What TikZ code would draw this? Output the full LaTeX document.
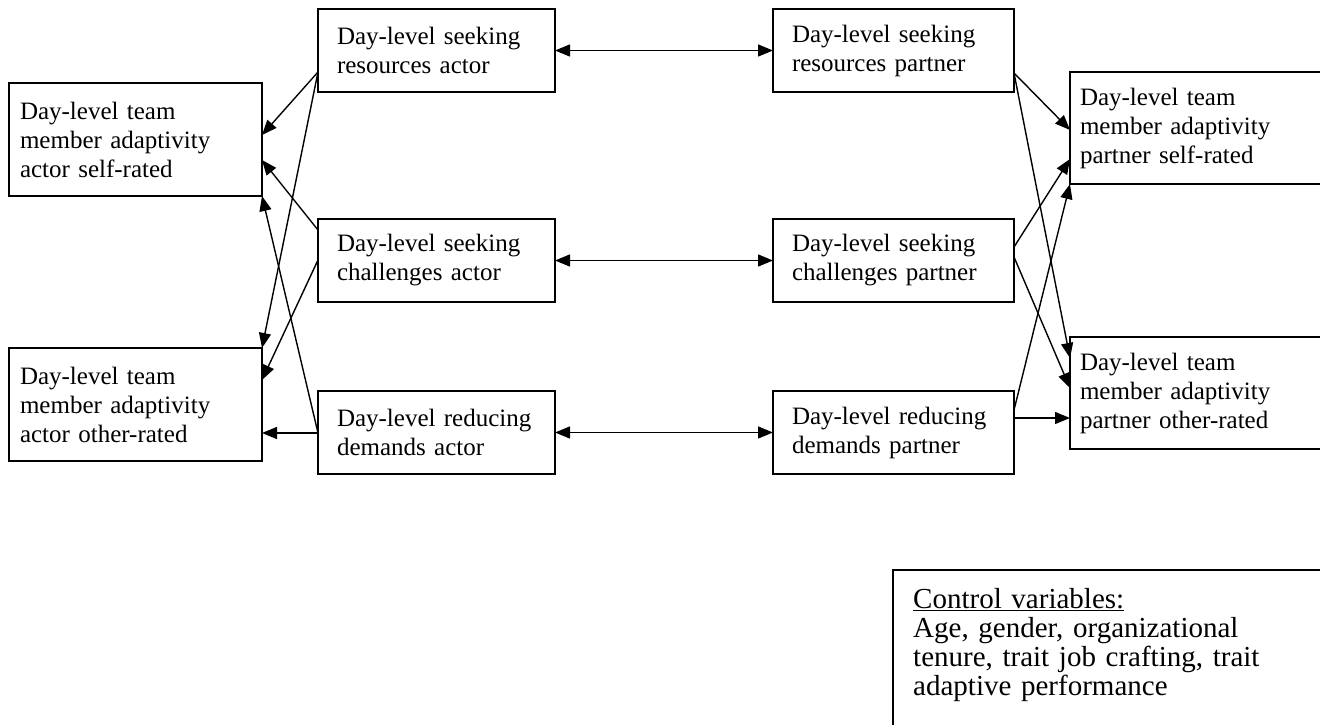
\documentclass[tikz,border=0pt]{standalone}
\usepackage{fontspec}
\setmainfont{Liberation Serif}
\usetikzlibrary{arrows.meta,calc}

\begin{document}
\begin{tikzpicture}[x=1pt, y=-1pt,
	box/.style={draw, anchor=north west, outer sep=0pt, align=left,
		font=\fontsize{25}{29}\selectfont},
	actbox/.style={box, line width=1.2pt, minimum width=253pt, minimum height=113pt,
		inner xsep=11pt, text width=231pt},
	midbox/.style 2 args={box, line width=2pt, minimum width=#1, minimum height=83pt,
		inner xsep=19pt, text width=#2},
	ptnbox/.style={box, line width=1.2pt, minimum width=300pt, minimum height=112pt,
		inner xsep=10pt, text width=280pt},
	conn/.style={-{Triangle[length=15pt,width=12pt]}, line width=1.4pt},
	link/.style={{Triangle[length=15pt,width=12pt]}-{Triangle[length=15pt,width=12pt]}, line width=1.4pt}]
	\useasboundingbox (0,0) rectangle (1320,725);
	\clip (0,0) rectangle (1320,725);
	% outcome boxes, actor and partner
	\node[actbox] (Aself) at (9,83) {Day-level team\\ member adaptivity\\ actor self-rated};
	\node[actbox] (Aother) at (9,348) {Day-level team\\ member adaptivity\\ actor other-rated};
	\node[ptnbox] (Pself) at (1070,72) {Day-level team\\ member adaptivity\\ partner self-rated};
	\node[ptnbox] (Pother) at (1070,337) {Day-level team\\ member adaptivity\\ partner other-rated};
	% crafting boxes with links between actor and partner
	\foreach \key/\y/\first/\second in {SR/9/seeking/resources, SC/219/seeking/challenges, RD/391/reducing/demands} {
		\node[midbox={237pt}{199pt}] (\key-a) at (318,\y) {Day-level \first\\ \second{} actor};
		\node[midbox={241pt}{203pt}] (\key-p) at (773,\y) {Day-level \first\\ \second{} partner};
		\draw[link] (\key-a.east) -- (\key-p.west);
	}
	% actor paths
	\draw[conn] ($(SR-a.north west)+(0,63)$) -- ($(Aself.north east)+(0,52)$);
	\draw[conn] ($(SR-a.north west)+(0,63)$) -- (Aother.north east);
	\draw[conn] ($(SC-a.north west)+(0,11)$) -- ($(Aself.north east)+(0,77)$);
	\draw[conn] ($(SC-a.north west)+(0,41)$) -- ($(Aother.north east)+(0,32)$);
	\draw[conn] ($(RD-a.north west)+(0,42)$) -- (Aself.south east);
	\draw[conn] ($(RD-a.north west)+(0,42)$) -- ($(Aother.north east)+(0,85)$);
	% partner paths
	\draw[conn] ($(SR-p.north east)+(0,64)$) -- ($(Pself.north west)+(0,58)$);
	\draw[conn] ($(SR-p.north east)+(0,64)$) -- ($(Pother.north west)+(0,21)$);
	\draw[conn] ($(SC-p.north east)+(0,28)$) -- ($(Pself.north west)+(0,87)$);
	\draw[conn] ($(SC-p.north east)+(0,38)$) -- ($(Pother.north west)+(0,51)$);
	\draw[conn] ($(RD-p.north east)+(0,19)$) -- (Pself.south west);
	\draw[conn] ($(RD-p.north east)+(0,27)$) -- ($(Pother.north west)+(0,81)$);
	% control variables
	\node[box, line width=2pt, minimum width=500pt, minimum height=220pt] (ctrl) at (893,570) {};
	\node[anchor=base west, inner sep=0pt, align=left, text width=420pt,
		font=\fontsize{29}{29}\selectfont] (ctrltext) at ($(ctrl.north west)+(20,38)$)
		{\underline{Control variables:}\\ Age, gender, organizational\\ tenure, trait job crafting, trait\\ adaptive performance};
\end{tikzpicture}
\end{document}
